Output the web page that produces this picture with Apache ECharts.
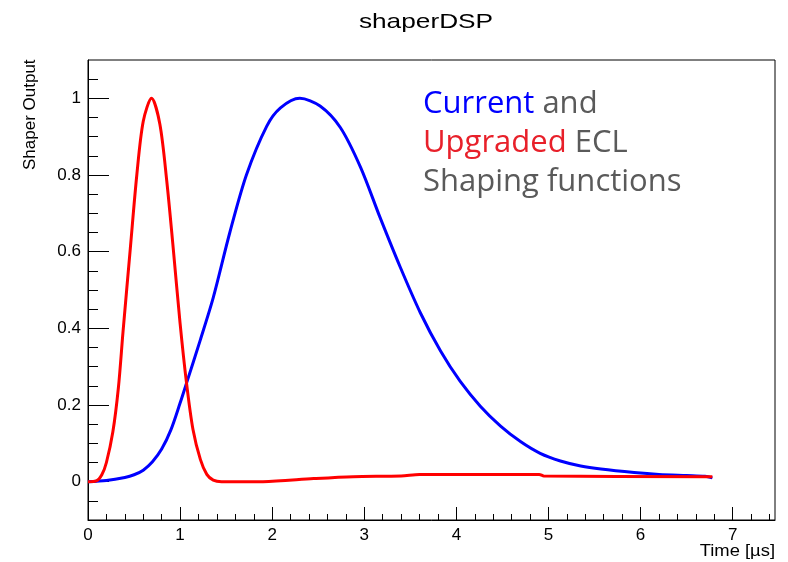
<!DOCTYPE html>
<html>
<head>
<meta charset="utf-8">
<script src="https://cdn.jsdelivr.net/npm/echarts@6/dist/echarts.min.js"></script>
<style>html,body{margin:0;padding:0;background:#fff}#c{width:788px;height:562px}</style>
</head>
<body>
<div id="c"></div>
<script>
// Current (blue) shaping function
var blueT = [0, 0.2, 0.4, 0.5, 0.6, 0.7, 0.8, 0.9, 1.0, 1.07, 1.22, 1.36, 1.54, 1.72, 1.94, 2.09, 2.3, 2.52, 2.74, 2.96, 3.17, 3.39, 3.61, 3.83, 4.04, 4.26, 4.48, 4.70, 4.91, 5.13, 5.35, 5.57, 5.93, 6.2, 6.5, 6.7, 6.78];
var blueV = [0, 0.003, 0.011, 0.018, 0.03, 0.052, 0.085, 0.135, 0.205, 0.257, 0.37, 0.48, 0.65, 0.80, 0.927, 0.975, 1.0, 0.98, 0.924, 0.82, 0.69, 0.56, 0.44, 0.34, 0.262, 0.197, 0.145, 0.104, 0.074, 0.054, 0.041, 0.033, 0.024, 0.019, 0.016, 0.014, 0.010];
// Upgraded (red) shaping function
var redT = [0, 0.09, 0.15, 0.2, 0.27, 0.33, 0.38, 0.46, 0.53, 0.60, 0.69, 0.78, 0.855, 0.925, 1.0, 1.07, 1.14, 1.22, 1.29, 1.36, 1.45, 1.9, 2.45, 2.88, 3.4, 3.6, 4.9, 4.95, 6.78];
var redV = [0, 0.002, 0.018, 0.05, 0.13, 0.245, 0.39, 0.61, 0.80, 0.94, 1.0, 0.933, 0.785, 0.61, 0.413, 0.257, 0.136, 0.058, 0.019, 0.004, 0, 0, 0.008, 0.013, 0.015, 0.019, 0.019, 0.015, 0.013];
// Axis ticks
var xMajorTicks = [0, 1, 2, 3, 4, 5, 6, 7];
var xMinorTicks = [0.2,0.4,0.6,0.8,1.2,1.4,1.6,1.8,2.2,2.4,2.6,2.8,3.2,3.4,3.6,3.8,4.2,4.4,4.6,4.8,5.2,5.4,5.6,5.8,6.2,6.4,6.6,6.8,7.2,7.4];
var yMajorTicks = [0, 0.2, 0.4, 0.6, 0.8, 1];
var yMinorTicks = [-0.05,0.05,0.1,0.15,0.25,0.3,0.35,0.45,0.5,0.55,0.65,0.7,0.75,0.85,0.9,0.95,1.05];

function pairs(t, v) { return t.map(function (x, i) { return [x, v[i]]; }); }

var chart = echarts.init(document.getElementById('c'), null, {renderer: 'canvas'});
var font = 'Liberation Sans, Arial, Helvetica, sans-serif';
chart.setOption({
  animation: false,
  backgroundColor: '#fff',
  grid: {left: 88, right: 13, top: 60, bottom: 42, show: true, borderColor: '#000', borderWidth: 1, backgroundColor: 'transparent'},
  xAxis: [{
    type: 'value', min: 0, max: 7.46, position: 'bottom',
    axisLine: {show: true, onZero: false, lineStyle: {color: '#000', width: 1}},
    axisTick: {show: true, inside: true, length: 13, customValues: xMajorTicks, lineStyle: {color: '#000'}},
    axisLabel: {customValues: xMajorTicks, color: '#000', fontSize: 17, fontFamily: font, margin: 7, formatter: function (v) { return String(v); }},
    splitLine: {show: false}
  }, {
    type: 'value', min: 0, max: 7.46, position: 'bottom', offset: 0,
    axisLine: {show: false, onZero: false},
    axisTick: {show: true, inside: true, length: 6, customValues: xMinorTicks, lineStyle: {color: '#000'}},
    axisLabel: {show: false},
    splitLine: {show: false}
  }],
  yAxis: [{
    type: 'value', min: -0.1, max: 1.1, position: 'left',
    axisLine: {show: true, onZero: false, lineStyle: {color: '#000', width: 1}},
    axisTick: {show: true, inside: true, length: 21, customValues: yMajorTicks, lineStyle: {color: '#000'}},
    axisLabel: {customValues: yMajorTicks, color: '#000', fontSize: 17, fontFamily: font, margin: 7, formatter: function (v) { return String(Math.round(v * 10) / 10); }},
    splitLine: {show: false}
  }, {
    type: 'value', min: -0.1, max: 1.1, position: 'left', offset: 0,
    axisLine: {show: false, onZero: false},
    axisTick: {show: true, inside: true, length: 10, customValues: yMinorTicks, lineStyle: {color: '#000'}},
    axisLabel: {show: false},
    splitLine: {show: false}
  }],
  series: [{
    type: 'line', name: 'Current', data: pairs(blueT, blueV), xAxisIndex: 0, yAxisIndex: 0,
    showSymbol: false, smooth: 0.3,
    lineStyle: {color: '#0000ff', width: 3}
  }, {
    type: 'line', name: 'Upgraded', data: pairs(redT, redV), xAxisIndex: 0, yAxisIndex: 0,
    showSymbol: false, smooth: 0.3,
    lineStyle: {color: '#ff0000', width: 3}
  }],
  graphic: [{
    type: 'text', x: 426, y: 12, scaleX: 1.25,
    style: {text: 'shaperDSP', fill: '#000', font: '21px ' + font, textAlign: 'center', textVerticalAlign: 'top'}
  }, {
    type: 'text', rotation: Math.PI / 2, x: 22, y: 170,
    style: {text: 'Shaper Output', fill: '#000', font: '17px ' + font, textAlign: 'left', textVerticalAlign: 'top'}
  }, {
    type: 'text', x: 775, y: 544, scaleX: 1.15,
    style: {text: 'Time [\u00b5s]', fill: '#000', font: '16px ' + font, textAlign: 'right', textVerticalAlign: 'top'}
  }, {
    type: 'text', left: 423, top: 85,
    style: {
      text: '{b|Current} {g|and}\n{r|Upgraded} {g|ECL}\n{g|Shaping functions}',
      font: '31px "Open Sans"', lineHeight: 39,
      rich: {
        b: {fill: '#0000ff', font: '31px "Open Sans"', lineHeight: 39},
        r: {fill: '#e8202a', font: '31px "Open Sans"', lineHeight: 39},
        g: {fill: '#5a5a5a', font: '31px "Open Sans"', lineHeight: 39}
      }
    }
  }]
});
</script>
</body>
</html>
